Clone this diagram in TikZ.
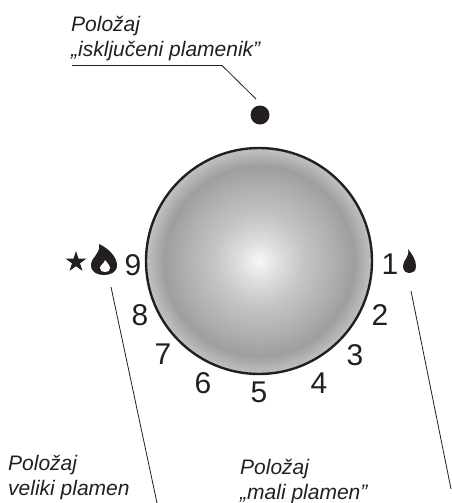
\documentclass[tikz,border=0pt]{standalone}
\usepackage{fontspec}
\setmainfont{Liberation Sans}
\usetikzlibrary{positioning, shapes.geometric}
\definecolor{inkdark}{HTML}{231F20}
\pgfdeclareradialshading{knobshade}{\pgfpoint{0bp}{0bp}}{%
  color(0bp)=(black!3); color(4bp)=(black!12); color(10bp)=(black!23);
  color(17bp)=(black!32); color(21bp)=(black!38); color(25bp)=(black!24); color(50bp)=(black!24)}
\tikzset{
  numlabel/.style={font=\fontsize{30}{30}\selectfont, text=inkdark, inner sep=0pt, anchor=center},
  caption/.style={font=\fontsize{21}{25.5}\selectfont\itshape, text=inkdark, inner sep=0pt, anchor=north west, align=left},
  leader/.style={draw=inkdark, line width=0.8pt},
}
\begin{document}
\begin{tikzpicture}[x=1pt, y=-1pt]
  \useasboundingbox (0,0) rectangle (451,503);
  % kruzni regulator
  \shade[shading=knobshade] (259,261) circle (113);
  \draw[inkdark, line width=2.4pt] (259,261) circle (113);
  % znamenke oko regulatora
  \foreach \n/\x/\y in {1/390/264, 2/380/315, 3/355/355, 4/319/383, 5/259/392,
                        6/203/383, 7/163/354, 8/140/315, 9/133/265}{
    \node[numlabel] (num\n) at (\x,\y) {\n};
  }
  % polozaj iskljucen
  \node[circle, fill=inkdark, minimum size=19pt, inner sep=0pt] (offdot) at (260,115) {};
  \node[caption] (offtext) at (71,16) {Položaj\\„isključeni plamenik”};
  \coordinate (offa) at (72,65.5);
  \coordinate (offb) at (222,65.5);
  \coordinate (offc) at (256,99);
  \draw[leader] (offa) -- (offb) -- (offc);
  % plamenovi
  \node[star, star points=5, star point ratio=2.6, fill=inkdark, minimum size=22pt, inner sep=0pt] (starsym) at (76,262) {};
  \fill[inkdark] (99,244) .. controls (110,249) and (117,258) .. (117,265)
     .. controls (117,272) and (111,275) .. (104,275)
     .. controls (97,275) and (91,272) .. (91,265)
     .. controls (91,257) and (101,254) .. (99,244) -- cycle;
  \fill[white] (105,260) .. controls (107,263) and (110,265) .. (110,268)
     .. controls (110,271) and (108,272) .. (105,272)
     .. controls (102,272) and (100,271) .. (100,268)
     .. controls (100,265) and (104,264) .. (105,260) -- cycle;
  \fill[inkdark] (408,249) .. controls (412,254) and (416,260) .. (416,266)
     .. controls (416,271) and (413,273) .. (410,273)
     .. controls (406,273) and (403,271) .. (403,266)
     .. controls (403,260) and (410,257) .. (408,249) -- cycle;
  % polozaj veliki plamen
  \node[caption] (bigtext) at (8,455) {Položaj\\veliki plamen};
  \coordinate (biga) at (111,287);
  \coordinate (bigb) at (157,503);
  \draw[leader] (biga) -- (bigb);
  % polozaj mali plamen
  \node[caption] (smalltext) at (240,459) {Položaj\\„mali plamen”};
  \coordinate (smalla) at (411,291);
  \coordinate (smallb) at (451,489);
  \draw[leader] (smalla) -- (smallb);
\end{tikzpicture}
\end{document}
